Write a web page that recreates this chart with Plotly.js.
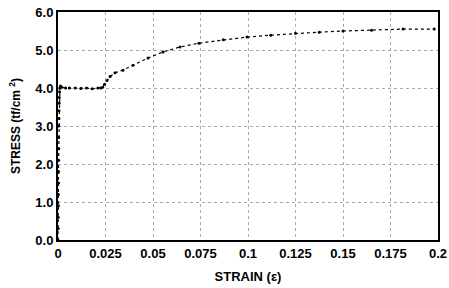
<!DOCTYPE html>
<html>
<head>
<meta charset="utf-8">
<script src="https://cdn.plot.ly/plotly-3.0.1.min.js"></script>
<style>html,body{margin:0;padding:0;background:#fff;}#chart{width:449px;height:288px;}</style>
</head>
<body>
<div id="chart"></div>
<script>
// Strain (ε) and stress (tf/cm²)
const strain = [0, 0.0001, 0.0001, 0.0002, 0.0002, 0.0003, 0.0003, 0.0003, 0.0004, 0.0004, 0.0004, 0.0005, 0.0005, 0.0006, 0.0007, 0.0008, 0.001, 0.0013, 0.002, 0.004, 0.006, 0.009, 0.012, 0.015, 0.018, 0.021, 0.0225, 0.0235, 0.0245, 0.0258, 0.0274, 0.030, 0.0342, 0.0395, 0.0474, 0.0553, 0.0642, 0.0742, 0.0870, 0.0995, 0.1120, 0.125, 0.1375, 0.150, 0.165, 0.1816, 0.198];
const stress = [0, 0.3, 0.6, 0.9, 1.2, 1.5, 1.8, 2.1, 2.4, 2.7, 3.0, 3.2, 3.4, 3.6, 3.75, 3.9, 4.0, 4.05, 4.02, 4.0, 4.0, 4.0, 3.99, 4.0, 3.98, 4.0, 4.0, 4.02, 4.1, 4.2, 4.3, 4.4, 4.47, 4.6, 4.79, 4.95, 5.08, 5.18, 5.27, 5.34, 5.39, 5.44, 5.47, 5.5, 5.52, 5.55, 5.55];
const xTickVals = [0, 0.025, 0.05, 0.075, 0.1, 0.125, 0.15, 0.175, 0.2];
const xTickText = ['0', '0.025', '0.05', '0.075', '0.1', '0.125', '0.15', '0.175', '0.2'];
const yTickVals = [0, 1, 2, 3, 4, 5, 6];
const yTickText = ['0.0', '1.0', '2.0', '3.0', '4.0', '5.0', '6.0'];

const fam = 'Liberation Sans Narrow, Liberation Sans, Arial, sans-serif';

Plotly.newPlot('chart', [{
  x: strain, y: stress, type: 'scatter', mode: 'lines+markers',
  line: {color: '#000', width: 1.2, dash: 'dot'},
  marker: {color: '#000', size: 3},
  hoverinfo: 'none', showlegend: false
}], {
  width: 449, height: 288,
  margin: {l: 58, r: 11, t: 12, b: 48},
  paper_bgcolor: '#fff', plot_bgcolor: '#fff',
  font: {family: fam, color: '#000'},
  xaxis: {
    range: [0, 0.2], tickvals: xTickVals, ticktext: xTickText,
    tickfont: {family: fam, size: 13, weight: 'bold', color: '#000'},
    showgrid: true, gridcolor: '#aaa', griddash: 'dot', gridwidth: 1,
    showline: true, linecolor: '#000', linewidth: 2, mirror: true,
    zeroline: false, ticks: '', ticklen: 0,
    title: {text: 'STRAIN (ε)', font: {family: fam, size: 13, weight: 'bold', color: '#000'}, standoff: 12}
  },
  yaxis: {
    range: [0, 6], tickvals: yTickVals, ticktext: yTickText,
    tickfont: {family: fam, size: 13, weight: 'bold', color: '#000'},
    showgrid: true, gridcolor: '#aaa', griddash: 'dot', gridwidth: 1,
    showline: true, linecolor: '#000', linewidth: 2, mirror: true,
    zeroline: false, ticks: '', ticklen: 0,
    title: {text: 'STRESS (tf/cm <sup>2</sup>)', font: {family: fam, size: 12, weight: 'bold', color: '#000'}, standoff: 12}
  }
}, {displayModeBar: false, staticPlot: true});
</script>
</body>
</html>
